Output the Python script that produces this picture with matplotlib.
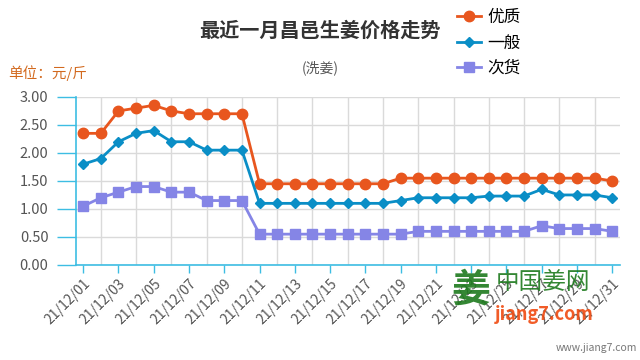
import matplotlib
matplotlib.use("Agg")
import matplotlib.pyplot as plt

plt.rcParams["font.family"] = ["Noto Sans CJK SC", "DejaVu Sans"]

# Daily prices for December 2021, yuan per jin
days = [f"21/12/{d:02d}" for d in range(1, 32)]
premium = [2.35, 2.35, 2.75, 2.80, 2.85, 2.75, 2.70, 2.70, 2.70, 2.70,
           1.45, 1.45, 1.45, 1.45, 1.45, 1.45, 1.45, 1.45,
           1.55, 1.55, 1.55, 1.55, 1.55, 1.55, 1.55, 1.55, 1.55, 1.55,
           1.55, 1.55, 1.50]
regular = [1.80, 1.90, 2.20, 2.35, 2.40, 2.20, 2.20, 2.05, 2.05, 2.05,
           1.10, 1.10, 1.10, 1.10, 1.10, 1.10, 1.10, 1.10,
           1.15, 1.20, 1.20, 1.20, 1.20, 1.23, 1.23, 1.23, 1.35,
           1.25, 1.25, 1.25, 1.20]
inferior = [1.05, 1.20, 1.30, 1.40, 1.40, 1.30, 1.30, 1.15, 1.15, 1.15,
            0.55, 0.55, 0.55, 0.55, 0.55, 0.55, 0.55, 0.55, 0.55,
            0.60, 0.60, 0.60, 0.60, 0.60, 0.60, 0.60, 0.70,
            0.65, 0.65, 0.65, 0.60]
series_names = ["优质", "一般", "次货"]
y_ticks = [0.0, 0.5, 1.0, 1.5, 2.0, 2.5, 3.0]

ORANGE = "#E8561E"
BLUE = "#0A8EC6"
PURPLE = "#8585E6"
AXIS = "#3DBDE3"
GRID = "#DADADA"
TEXT = "#555555"

fig = plt.figure(figsize=(6.4, 3.6), dpi=100)
ax = fig.add_axes([0.119, 0.264, 0.850, 0.4667])

x = list(range(1, len(days) + 1))
ax.plot(x, premium, color=ORANGE, lw=2, marker="o", ms=7.5, label=series_names[0], zorder=3)
ax.plot(x, regular, color=BLUE, lw=2, marker="D", ms=5, label=series_names[1], zorder=3)
ax.plot(x, inferior, color=PURPLE, lw=2, marker="s", ms=7.5, label=series_names[2], zorder=3)

ax.set_xlim(0.6, 31.45)
ax.set_ylim(0, 3.0)

# grid on every day, labels on every other day
ax.set_xticks(x, minor=True)
ax.set_xticks(x[::2])
ax.set_xticklabels(days[::2], rotation=45, ha="right", va="top",
                   rotation_mode="anchor", fontsize=10, color=TEXT)
ax.set_yticks(y_ticks)
ax.set_yticklabels([f"{v:.2f}" for v in y_ticks], fontsize=10.5, color=TEXT)
ax.grid(True, which="minor", axis="x", color=GRID, lw=1)
ax.grid(True, which="major", axis="y", color=GRID, lw=1)
ax.set_axisbelow(True)

ax.tick_params(axis="x", which="major", length=6, color=AXIS, width=1, pad=2)
ax.tick_params(axis="x", which="minor", length=0)
ax.tick_params(axis="y", length=14, color=AXIS, width=1, pad=6)
for side in ("top", "right"):
    ax.spines[side].set_visible(False)
for side in ("left", "bottom"):
    ax.spines[side].set_color(AXIS)
    ax.spines[side].set_linewidth(1.2)

fig.text(0.5, 0.917, "最近一月昌邑生姜价格走势", ha="center", va="center",
         fontsize=14.5, fontweight="bold", color="#333333")
fig.text(0.5, 0.812, "(洗姜)", ha="center", va="center", fontsize=10, color=TEXT)
fig.text(0.012, 0.797, "单位：元/斤", ha="left", va="center", fontsize=10.5, color="#D2691E")

fig.legend(loc="upper left", bbox_to_anchor=(0.7, 1.0), frameon=False,
           fontsize=12, handlelength=1.4, handletextpad=0.4, labelspacing=0.5,
           borderaxespad=0.15)

# site watermark
fig.text(0.735, 0.195, "姜", fontsize=28, color="#1E7A1E", ha="center", va="center",
         fontweight="bold", alpha=0.9)
fig.text(0.848, 0.215, "中国姜网", fontsize=17, color="#1E7A1E", ha="center", va="center",
         alpha=0.9)
fig.text(0.85, 0.125, "jiang7.com", fontsize=13, color="#F04A10", ha="center", va="center",
         fontweight="bold", style="italic", alpha=0.9)
fig.text(0.995, 0.02, "www.jiang7.com", fontsize=7.5, color="#777777", ha="right", va="bottom")

fig.savefig("out.png", dpi=100)
